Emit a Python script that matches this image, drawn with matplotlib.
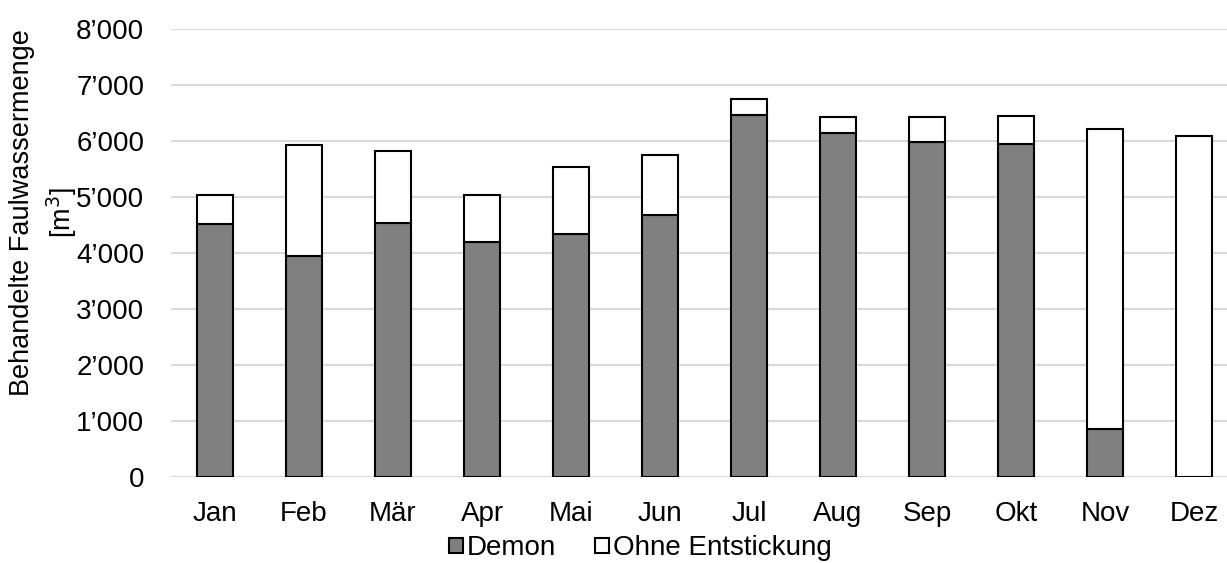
import numpy as np
import matplotlib
matplotlib.use('Agg')
import matplotlib.pyplot as plt
from matplotlib.ticker import FuncFormatter

plt.rcParams['font.family'] = ['Liberation Sans', 'DejaVu Sans']

# Monthly treated digester water, m3
months = ['Jan', 'Feb', 'Mär', 'Apr', 'Mai', 'Jun', 'Jul', 'Aug', 'Sep', 'Okt', 'Nov', 'Dez']
demon = [4520, 3950, 4530, 4200, 4340, 4670, 6460, 6140, 5990, 5950, 860, 0]
total = [5030, 5920, 5820, 5040, 5540, 5750, 6750, 6420, 6430, 6450, 6210, 6090]
ohne = [t - d for t, d in zip(total, demon)]

fig = plt.figure(figsize=(12.27, 5.63), dpi=100)
ax = fig.add_axes([0.139, 0.1528, 0.8704, 0.7957])

x = np.arange(len(months))
w = 0.4
ax.bar(x, demon, width=w, color='#808080', edgecolor='black', linewidth=1.5,
       label='Demon', zorder=3)
ax.bar(x, ohne, width=w, bottom=demon, color='white', edgecolor='black',
       linewidth=1.5, label='Ohne Entstickung', zorder=3)

ax.set_xlim(-0.5, 11.5)
ax.set_ylim(0, 8000)
ax.set_yticks(range(0, 8001, 1000))
ax.yaxis.set_major_formatter(FuncFormatter(lambda v, p: f'{int(v):,}'.replace(',', '\u2019')))
ax.set_xticks(x)
ax.set_xticklabels(months)

ax.grid(axis='y', color='#d9d9d9', linewidth=1.5, zorder=0)
for s in ax.spines.values():
    s.set_visible(False)
ax.tick_params(axis='both', length=0, labelsize=20, colors='black')
ax.tick_params(axis='x', pad=17)
ax.tick_params(axis='y', pad=19)

fig.text(0.036, 0.622, 'Behandelte Faulwassermenge\n[m$^3$]', rotation=90,
         ha='center', va='center', multialignment='center', fontsize=19.5,
         linespacing=1.35)

fig.legend(loc='center', bbox_to_anchor=(0.522, 0.026), ncol=2, frameon=False,
           fontsize=20, handlelength=0.5, handleheight=0.5, handletextpad=0.15,
           columnspacing=1.4, borderaxespad=0)

fig.savefig('out.png', dpi=100)
